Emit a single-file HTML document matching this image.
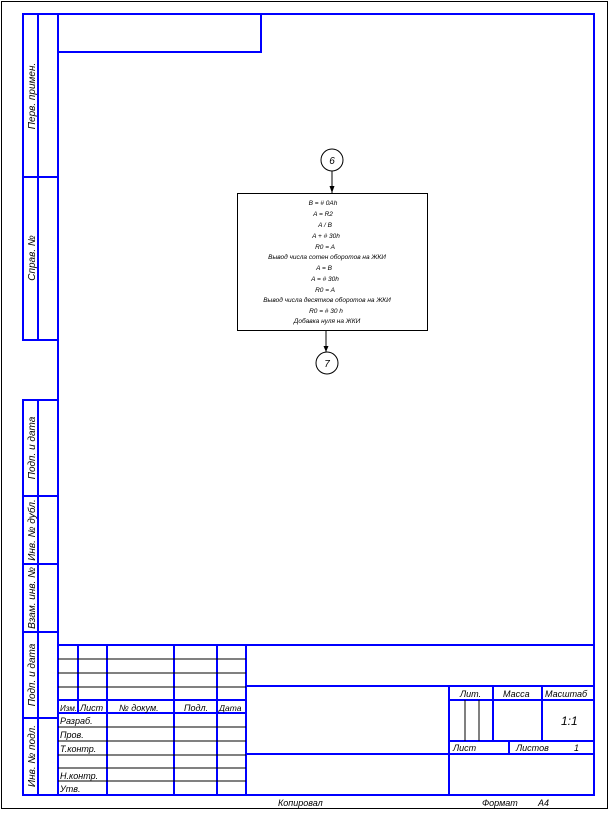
<!DOCTYPE html>
<html><head><meta charset="utf-8"><style>
html,body{margin:0;padding:0;background:#fff;}
svg{display:block;}
text{font-family:"Liberation Sans","DejaVu Sans",sans-serif;font-style:italic;fill:#000;}
</style></head><body>
<svg width="611" height="819" viewBox="0 0 611 819" xmlns="http://www.w3.org/2000/svg">
<rect x="1.5" y="1.5" width="606" height="807" fill="none" stroke="#000" stroke-width="1"/>
<g stroke="#0000ff" stroke-width="2" fill="none">
<rect x="58" y="14" width="536" height="781"/>
<polyline points="58,52 261,52 261,14"/>
<!-- left strip -->
<rect x="23" y="14" width="35" height="326"/>
<line x1="38" y1="14" x2="38" y2="340"/>
<line x1="23" y1="177" x2="58" y2="177"/>
<rect x="23" y="400" width="35" height="395"/>
<line x1="38" y1="400" x2="38" y2="795"/>
<line x1="23" y1="496" x2="58" y2="496"/>
<line x1="23" y1="564" x2="58" y2="564"/>
<line x1="23" y1="632" x2="58" y2="632"/>
<line x1="23" y1="718" x2="58" y2="718"/>
<!-- title block -->
<line x1="58" y1="645" x2="594" y2="645"/>
<line x1="78" y1="645" x2="78" y2="713"/>
<line x1="107" y1="645" x2="107" y2="795"/>
<line x1="174" y1="645" x2="174" y2="795"/>
<line x1="217" y1="645" x2="217" y2="795"/>
<line x1="246" y1="645" x2="246" y2="795"/>
<line x1="58" y1="700" x2="246" y2="700"/>
<line x1="58" y1="713" x2="246" y2="713"/>
<line x1="246" y1="686" x2="594" y2="686"/>
<line x1="246" y1="754" x2="594" y2="754"/>
<line x1="449" y1="686" x2="449" y2="795"/>
<line x1="449" y1="700" x2="594" y2="700"/>
<line x1="449" y1="741" x2="594" y2="741"/>
<line x1="493" y1="686" x2="493" y2="741"/>
<line x1="542" y1="686" x2="542" y2="741"/>
<line x1="509" y1="741" x2="509" y2="754"/>
</g>
<g stroke="#000" stroke-width="1">
<line x1="58" y1="659" x2="246" y2="659"/>
<line x1="58" y1="673" x2="246" y2="673"/>
<line x1="58" y1="687" x2="246" y2="687"/>
<line x1="58" y1="727" x2="246" y2="727"/>
<line x1="58" y1="741" x2="246" y2="741"/>
<line x1="58" y1="755" x2="246" y2="755"/>
<line x1="58" y1="768" x2="246" y2="768"/>
<line x1="58" y1="781" x2="246" y2="781"/>
<line x1="465" y1="700" x2="465" y2="741"/>
<line x1="479" y1="700" x2="479" y2="741"/>
</g>
<g font-size="9">
<text x="60" y="711" font-size="8">Изм.</text>
<text x="80" y="711">Лист</text>
<text x="119" y="711">№ докум.</text>
<text x="184" y="711">Подл.</text>
<text x="219" y="711" font-size="8.5">Дата</text>
<text x="60" y="724">Разраб.</text>
<text x="60" y="738">Пров.</text>
<text x="60" y="752">Т.контр.</text>
<text x="60" y="779">Н.контр.</text>
<text x="60" y="792">Утв.</text>
<text x="460" y="697">Лит.</text>
<text x="503" y="697">Масса</text>
<text x="545" y="697">Масштаб</text>
<text x="561" y="725" font-size="12">1:1</text>
<text x="453" y="751">Лист</text>
<text x="516" y="751">Листов</text>
<text x="574" y="751">1</text>
<text x="278" y="806">Копировал</text>
<text x="482" y="806">Формат</text>
<text x="538" y="806">А4</text>
</g>
<g font-size="10" text-anchor="middle">
<text transform="translate(35,96) rotate(-90)">Перв. примен.</text>
<text transform="translate(35,258) rotate(-90)">Справ. №</text>
<text transform="translate(35,448) rotate(-90)">Подп. и дата</text>
<text transform="translate(35,530) rotate(-90)">Инв. № дубл.</text>
<text transform="translate(35,598) rotate(-90)">Взам. инв. №</text>
<text transform="translate(35,675) rotate(-90)">Подп. и дата</text>
<text transform="translate(35,756) rotate(-90)">Инв. № подл.</text>
</g>
<!-- flowchart -->
<g stroke="#000" stroke-width="1" fill="none">
<circle cx="332" cy="160" r="11"/>
<line x1="332" y1="171" x2="332" y2="193"/>
<rect x="237.5" y="193.5" width="190" height="137"/>
<line x1="326" y1="331" x2="326" y2="352"/>
<circle cx="327" cy="363" r="11"/>
</g>
<polygon points="329.5,186 334.5,186 332,193" fill="#000"/>
<polygon points="323.5,346 328.5,346 326,352" fill="#000"/>
<text x="332" y="164" font-size="10" text-anchor="middle" font-style="normal">6</text>
<text x="327" y="367" font-size="10" text-anchor="middle" font-style="normal">7</text>
<g font-size="6.5" text-anchor="middle">
<text x="323" y="205">B = # 0Ah</text>
<text x="323" y="216">A = R2</text>
<text x="325" y="227">A /  B</text>
<text x="326" y="238">A + # 30h</text>
<text x="325" y="249">R0 = A</text>
<text x="327" y="259">Вывод числа сотен оборотов на ЖКИ</text>
<text x="324" y="270">A = B</text>
<text x="325" y="281">A = # 30h</text>
<text x="325" y="292">R0 = A</text>
<text x="327" y="302">Вывод числа десятков оборотов на ЖКИ</text>
<text x="326" y="313">R0 = # 30 h</text>
<text x="327" y="323">Добавка нуля на ЖКИ</text>
</g>
</svg>
</body></html>
